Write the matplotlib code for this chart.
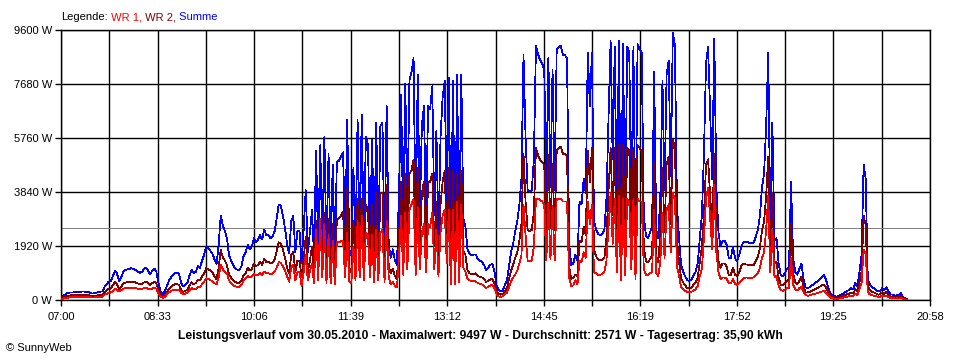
import numpy as np
import matplotlib
matplotlib.use("Agg")
import matplotlib.pyplot as plt

plt.rcParams['font.family'] = ['Liberation Sans', 'DejaVu Sans']

# Leistung in W, ein Wert alle 2 Minuten ab 07:00
summe = [
    40, 150, 200, 240, 260, 270, 270, 280, 280, 270,            # 07:00
    300, 300, 290, 300, 260, 230, 240, 260, 280, 300,
    300, 470, 560, 650, 670, 850, 1040, 940, 660, 800,
    1000, 1060, 1090, 1110, 1130, 1100, 1060, 1010, 960, 1000,
    1100, 1150, 1040, 910, 1050, 1120, 1000, 600, 300, 200,
    300, 480, 680, 800, 900, 950, 980, 900, 600, 480,           # 08:40
    560, 620, 880, 1070, 950, 1000, 1200, 1150, 1400, 1600,
    1900, 1850, 1750, 1650, 1450, 1280, 1950, 3000, 2650, 2450,
    2200, 1600, 1400, 1250, 1120, 1080, 1070, 1200, 1550, 1700,
    1950, 1800, 1900, 2200, 2050, 2150, 2300, 2150, 2500, 2300,
    2300, 2200, 2250, 2450, 2900, 3400, 3350, 3000, 2550, 2000, # 10:20
    1650, 2800, 3000, 1700, 2450, 2450, 1300, 2500, 3900, 1700,
    2400, 3200, 1600, 5300, 1800, 5500, 2000, 5800, 1700, 5200,
    1600, 4800, 1500, 4900, 4950, 5100, 5250, 2000, 6400, 1800,
    1600, 4700, 1800, 6400, 2000, 6600, 1900, 5800, 5500, 2000,
    5700, 1700, 6300, 1800, 6200, 6300, 1700, 6900, 2000, 1500, # 12:00
    1800, 1400, 1250, 4000, 7300, 2500, 7700, 3000, 7800, 8100,
    8600, 2500, 8000, 3000, 6200, 6900, 2800, 6900, 6800, 7600,
    3000, 6000, 2300, 5800, 7200, 7800, 3500, 7900, 1500, 7800,
    1500, 8000, 1800, 8000, 2900, 2600, 1800, 1650, 1600, 1620,
    1620, 1450, 1400, 1350, 1250, 1070, 1150, 1250, 1280, 1000, # 13:40
    530, 350, 300, 340, 530, 680, 1200, 1700, 2000, 2450,
    2800, 3400, 4300, 8700, 5800, 3900, 3850, 3900, 5000, 9050,
    8750, 8530, 8400, 8200, 3900, 8600, 4000, 8200, 3900, 8900,
    9000, 9050, 8700, 8700, 8600, 2000, 1250, 1300, 1600, 1400,
    3500, 3400, 4300, 3800, 8800, 6900, 8800, 2800, 2500, 2350, # 15:20
    2300, 2350, 2500, 3600, 6500, 9200, 5000, 9000, 2800, 9200,
    1800, 9100, 2500, 9000, 8800, 3000, 9000, 2000, 9100, 8900,
    8800, 3000, 2300, 2200, 2400, 2600, 8100, 2500, 2200, 3800,
    7800, 3900, 8000, 8500, 4400, 9497, 9050, 3300, 2200, 1250,
    1000, 830, 700, 680, 720, 890, 1000, 1300, 2200, 3000,      # 17:00
    5200, 8400, 9000, 6600, 4300, 9300, 4000, 2400, 1900, 2100,
    2100, 1950, 1480, 1500, 1900, 1480, 1380, 1600, 1900, 2050,
    2060, 2060, 2020, 2030, 2040, 2250, 2500, 3000, 4000, 4500,
    6200, 8800, 2700, 6300, 2100, 2200, 1300, 900, 850, 950,
    1100, 1150, 4200, 1500, 1000, 900, 1100, 1300, 750, 450,    # 18:40
    420, 460, 520, 570, 620, 690, 760, 830, 880, 680,
    420, 240, 180, 140, 120, 150, 180, 220, 270, 330,
    350, 420, 380, 600, 500, 1000, 1600, 4800, 4300, 750,
    560, 460, 420, 360, 300, 330, 420, 350, 450, 300,
    200, 190, 150, 170, 150, 250, 100, 60, 20,                  # 20:20
]
wr1 = [
    10, 50, 70, 80, 90, 100, 100, 100, 110, 100,
    110, 110, 110, 120, 100, 90, 90, 100, 110, 120,
    120, 190, 220, 250, 270, 320, 400, 370, 300, 350,
    400, 420, 430, 430, 440, 430, 420, 400, 390, 400,
    420, 440, 400, 370, 410, 430, 400, 230, 120, 80,
    110, 190, 270, 320, 350, 360, 370, 350, 250, 200,
    230, 260, 360, 430, 390, 400, 470, 450, 560, 650,
    770, 750, 700, 670, 600, 550, 800, 1250, 1100, 1000,
    950, 700, 600, 540, 480, 470, 470, 530, 680, 750,
    850, 800, 830, 920, 880, 900, 950, 900, 1000, 950,
    950, 920, 940, 1000, 1150, 1350, 1320, 1200, 1050, 850,
    650, 1150, 1250, 700, 1000, 1000, 500, 1000, 1600, 700,
    1000, 1300, 600, 2500, 700, 2900, 800, 2700, 600, 2300,
    600, 2100, 550, 2050, 2050, 2100, 2100, 800, 2400, 650,
    600, 1900, 700, 2800, 800, 3000, 700, 2400, 2300, 800,
    2300, 650, 2500, 700, 2400, 2500, 650, 2800, 800, 550,
    650, 500, 450, 1600, 3000, 900, 3100, 1100, 3200, 3400,
    3600, 900, 3300, 1100, 2400, 2700, 1000, 2700, 2600, 3100,
    1100, 2500, 850, 2400, 3000, 3200, 1300, 3200, 550, 3200,
    550, 3500, 650, 3400, 1150, 1000, 750, 700, 680, 690,
    650, 600, 580, 550, 500, 430, 470, 520, 530, 420,
    200, 130, 110, 130, 210, 260, 450, 650, 800, 900,
    1050, 1300, 1600, 3400, 2300, 1400, 1400, 1400, 1900, 3600,
    3600, 3550, 3500, 3400, 1400, 3450, 1450, 3350, 1400, 3600,
    3600, 3600, 3500, 3500, 3500, 800, 500, 520, 700, 560,
    1400, 1350, 1700, 1500, 3500, 2700, 3400, 1000, 950, 900,
    900, 920, 1000, 1400, 2600, 3800, 2000, 3600, 1000, 3700,
    700, 3600, 900, 3600, 3500, 1100, 3600, 750, 3600, 3500,
    3500, 1100, 900, 870, 950, 1000, 3200, 950, 850, 1400,
    3100, 1500, 3200, 3400, 1700, 3800, 3600, 1200, 850, 470,
    380, 320, 280, 270, 290, 340, 380, 500, 850, 1100,
    2200, 3600, 4000, 2900, 1800, 4100, 1700, 1000, 750, 800,
    800, 760, 600, 600, 750, 580, 540, 620, 700, 760,
    800, 800, 780, 790, 800, 870, 950, 1150, 1500, 1700,
    2500, 3700, 1000, 2500, 800, 850, 500, 350, 330, 370,
    420, 430, 1500, 550, 380, 340, 420, 480, 290, 180,
    150, 170, 190, 210, 230, 250, 280, 300, 330, 250,
    150, 80, 60, 50, 40, 50, 60, 80, 100, 120,
    130, 150, 140, 220, 180, 380, 600, 1800, 1650, 280,
    200, 170, 150, 130, 110, 120, 150, 130, 160, 110,
    70, 70, 50, 60, 50, 90, 40, 20, 10,
]
wr2 = [
    30, 100, 130, 150, 160, 170, 170, 170, 170, 170,
    180, 180, 170, 180, 150, 140, 150, 160, 170, 180,
    180, 280, 330, 400, 400, 530, 640, 570, 380, 470,
    590, 620, 630, 640, 650, 640, 620, 590, 560, 580,
    620, 650, 600, 540, 600, 650, 580, 350, 180, 120,
    170, 280, 390, 460, 520, 560, 570, 530, 340, 290,
    330, 360, 520, 630, 560, 600, 720, 700, 840, 950,
    1130, 1100, 1050, 980, 850, 730, 1150, 1780, 1520, 1400,
    1250, 900, 800, 710, 640, 610, 600, 680, 870, 950,
    1150, 1050, 1100, 1300, 1200, 1250, 1350, 1250, 1450, 1350,
    1350, 1300, 1320, 1450, 1750, 2050, 2000, 1800, 1500, 1150,
    950, 1600, 1700, 1000, 1400, 1400, 800, 1450, 2250, 1000,
    1400, 1900, 1000, 2800, 1100, 2600, 1200, 3100, 1100, 2900,
    1000, 2700, 950, 2850, 2900, 3000, 3150, 1200, 4000, 1150,
    1000, 2800, 1100, 3600, 1200, 3600, 1200, 3400, 3200, 1200,
    3400, 1050, 3800, 1100, 3800, 3800, 1050, 4100, 1200, 950,
    1100, 850, 750, 2300, 4200, 1500, 4500, 1800, 4500, 4600,
    5000, 1600, 4700, 1900, 3800, 4200, 1800, 4200, 4200, 4500,
    1900, 3500, 1450, 3400, 4200, 4600, 2200, 4700, 950, 4600,
    950, 4500, 1150, 4600, 1750, 1600, 1050, 950, 920, 930,
    950, 850, 820, 800, 750, 640, 680, 730, 750, 580,
    330, 220, 190, 210, 320, 420, 750, 1050, 1250, 1500,
    1700, 2100, 2700, 5200, 3500, 2500, 2450, 2500, 3100, 5400,
    5150, 4980, 4900, 4800, 2500, 5150, 2550, 4850, 2500, 5300,
    5400, 5450, 5200, 5200, 5100, 1200, 750, 780, 900, 840,
    2100, 2050, 2600, 2300, 5300, 4200, 5400, 1800, 1550, 1450,
    1400, 1430, 1500, 2200, 3900, 5400, 3000, 5400, 1800, 5500,
    1100, 5500, 1600, 5400, 5300, 1900, 5400, 1250, 5500, 5400,
    5300, 1900, 1400, 1330, 1450, 1600, 4900, 1550, 1350, 2400,
    4700, 2400, 4800, 5100, 2700, 5690, 5450, 2100, 1350, 780,
    620, 510, 420, 410, 430, 550, 620, 800, 1350, 1900,
    3000, 4800, 5000, 3700, 2500, 5200, 2300, 1400, 1150, 1300,
    1300, 1190, 880, 900, 1150, 900, 840, 980, 1200, 1290,
    1260, 1260, 1240, 1240, 1240, 1380, 1550, 1850, 2500, 2800,
    3700, 5100, 1700, 3800, 1300, 1350, 800, 550, 520, 580,
    680, 720, 2700, 950, 620, 560, 680, 820, 460, 270,
    270, 290, 330, 360, 390, 440, 480, 530, 550, 430,
    270, 160, 120, 90, 80, 100, 120, 140, 170, 210,
    220, 270, 240, 380, 320, 620, 1000, 3000, 2650, 470,
    360, 290, 270, 230, 190, 210, 270, 220, 290, 190,
    130, 120, 100, 110, 100, 160, 60, 40, 10,
]

x_labels = ["07:00", "08:33", "10:06", "11:39", "13:12",
            "14:45", "16:19", "17:52", "19:25", "20:58"]
y_labels = ["0 W", "1920 W", "3840 W", "5760 W", "7680 W", "9600 W"]
span = 838        # Minuten 07:00 .. 20:58
mittel = 2571     # Durchschnitt W

n = min(len(summe), len(wr1), len(wr2))
t = np.arange(n) * 2

fig = plt.figure(figsize=(9.6, 3.6), dpi=100)
ax = fig.add_axes([61 / 960, 60 / 360, 869 / 960, 270 / 360])

ax.set_xlim(0, span)
ax.set_ylim(0, 9600)
ax.set_xticks(np.linspace(0, span, len(x_labels)))
ax.set_xticklabels(x_labels)
ax.set_xticks(np.linspace(0, span, 2 * len(x_labels) - 1), minor=True)
ax.set_yticks(np.linspace(0, 9600, len(y_labels)))
ax.set_yticklabels(y_labels)
ax.tick_params(which='both', direction='out', length=4.5, width=1,
               color='black', labelsize=8, labelcolor='black')
ax.tick_params(axis='x', which='both', pad=4)
ax.tick_params(axis='y', pad=2)
ax.grid(True, which='both', color='black', linewidth=1)
ax.set_axisbelow(True)
for sp in ax.spines.values():
    sp.set_color('black')
    sp.set_linewidth(1)

lw = 0.55
ax.axhline(mittel, color='#808080', linewidth=0.72, zorder=2, antialiased=False)
ax.plot(t, summe[:n], color='#0000ff', linewidth=lw, zorder=3, antialiased=False)
ax.plot(t, wr2[:n], color='#800000', linewidth=lw, zorder=4, antialiased=False)
ax.plot(t, wr1[:n], color='#ff0000', linewidth=lw, zorder=5, antialiased=False)

# Legende als farbiger Text
renderer = fig.canvas.get_renderer()
x = 61 / 960
for s, c in [("Legende:", "black"), (" WR 1,", "#ff0000"),
             (" WR 2,", "#800000"), (" Summe", "#0000ff")]:
    txt = fig.text(x, (360 - 20) / 360, s, color=c, fontsize=8,
                   ha='left', va='baseline')
    x = txt.get_window_extent(renderer).x1 / fig.bbox.width

fig.text(0.5, (360 - 339) / 360,
         "Leistungsverlauf vom 30.05.2010 - Maximalwert: 9497 W - "
         "Durchschnitt: 2571 W - Tagesertrag: 35,90 kWh",
         ha='center', va='baseline', fontsize=8.7, fontweight='bold')
fig.text(6 / 960, (360 - 351) / 360, "\u00a9 SunnyWeb", fontsize=8,
         ha='left', va='baseline')

fig.savefig("out.png", dpi=100)
